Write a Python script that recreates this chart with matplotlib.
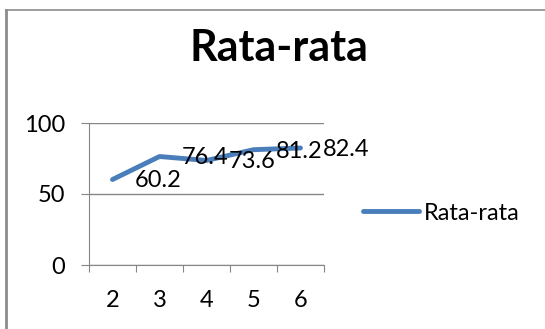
import matplotlib.pyplot as plt
from matplotlib.lines import Line2D

plt.rcParams['font.family'] = ['Lato', 'DejaVu Sans']

categories = ["2", "3", "4", "5", "6"]
values = [60.2, 76.4, 73.6, 81.2, 82.4]
series_name = "Rata-rata"

fig = plt.figure(figsize=(5.45, 3.29), dpi=100)
ax = fig.add_axes([89 / 545, 1 - 265 / 329, (324 - 89) / 545, (265 - 123) / 329])

xs = list(range(len(categories)))
line, = ax.plot(xs, values, color="#4a7ebb", linewidth=3.5, solid_capstyle="round",
                label=series_name)
for x, v in zip(xs, values):
    ax.annotate(f"{v:g}", (x, v), xytext=(16, -1), textcoords="offset points",
                ha="left", va="center", fontsize=17)

ax.set_xlim(-0.5, len(categories) - 0.5)
ax.set_ylim(0, 100)
ax.set_yticks([0, 50, 100])
ax.set_xticks([x + 0.5 for x in range(-1, len(categories))])
ax.set_xticklabels([])
ax.set_xticks(xs, minor=True)
ax.set_xticklabels(categories, minor=True)
ax.tick_params(axis="x", which="major", length=5, color="#868686", direction="out")
ax.tick_params(axis="x", which="minor", length=0, labelsize=17, pad=18)
ax.tick_params(axis="y", length=6, color="#868686", labelsize=17, pad=11)
ax.grid(axis="y", color="#868686", linewidth=1)
ax.set_axisbelow(True)
for s in ["top", "right"]:
    ax.spines[s].set_visible(False)
for s in ["left", "bottom"]:
    ax.spines[s].set_color("#868686")

fig.text(279 / 545, 1 - 48 / 329, "Rata-rata", ha="center", va="center",
         fontsize=31, fontweight="bold")

fig.legend(handles=[line], loc="center left", bbox_to_anchor=(342 / 545, 1 - 213 / 329),
           frameon=False, fontsize=17, handlelength=2.35, handletextpad=0.2)

# border of the chart area (only top and left edges show)
fig.add_artist(Line2D([6 / 545, 1], [1 - 10 / 329, 1 - 10 / 329], color="#8c8c8c",
                      linewidth=1.2, transform=fig.transFigure))
fig.add_artist(Line2D([6 / 545, 6 / 545], [0, 1 - 10 / 329], color="#8c8c8c",
                      linewidth=2, transform=fig.transFigure))

fig.savefig("out.png", dpi=100)
